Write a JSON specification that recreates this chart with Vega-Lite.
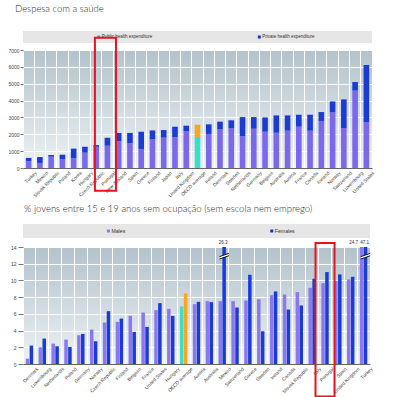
{
  "$schema": "https://vega.github.io/schema/vega-lite/v6.json",
  "background": "white",
  "padding": {"left": 0, "top": 3, "right": 0, "bottom": 0},
  "config": {
    "font": "Liberation Sans",
    "title": {"font": "Lato", "fontSize": 9.5, "fontWeight": 300, "color": "#2a2a2a", "anchor": "start", "frame": "bounds"},
    "style": {"group-title": {"fontWeight": 300, "fontSize": 9.5}},
    "axis": {"labelFont": "Liberation Sans"}
  },
  "align": "none",
  "spacing": 5,
  "datasets": {
    "health": [
      {"country": "Turkey", "public": 400, "total": 600},
      {"country": "Mexico", "public": 300, "total": 650},
      {"country": "Slovak Republic", "public": 670, "total": 770},
      {"country": "Poland", "public": 530, "total": 790},
      {"country": "Korea", "public": 570, "total": 1150},
      {"country": "Hungary", "public": 910, "total": 1260},
      {"country": "Czech Republic", "public": 1260, "total": 1360},
      {"country": "Portugal", "public": 1320, "total": 1800},
      {"country": "New Zealand", "public": 1600, "total": 2070},
      {"country": "Spain", "public": 1460, "total": 2080},
      {"country": "Greece", "public": 1130, "total": 2150},
      {"country": "Finland", "public": 1700, "total": 2230},
      {"country": "Japan", "public": 1800, "total": 2250},
      {"country": "Italy", "public": 1820, "total": 2450},
      {"country": "United Kingdom", "public": 2170, "total": 2510},
      {"country": "OECD average", "public": 1840, "total": 2570},
      {"country": "Ireland", "public": 2020, "total": 2590},
      {"country": "Denmark", "public": 2290, "total": 2750},
      {"country": "Sweden", "public": 2370, "total": 2830},
      {"country": "Netherlands", "public": 1880, "total": 3020},
      {"country": "Germany", "public": 2330, "total": 3020},
      {"country": "Belgium", "public": 2150, "total": 3000},
      {"country": "Australia", "public": 2090, "total": 3120},
      {"country": "Austria", "public": 2210, "total": 3120},
      {"country": "France", "public": 2450, "total": 3160},
      {"country": "Canada", "public": 2210, "total": 3160},
      {"country": "Iceland", "public": 2790, "total": 3320},
      {"country": "Norway", "public": 3300, "total": 3950},
      {"country": "Switzerland", "public": 2370, "total": 4070},
      {"country": "Luxembourg", "public": 4590, "total": 5100},
      {"country": "United States", "public": 2730, "total": 6110}
    ],
    "neet": [
      {"country": "Denmark", "sex": "Males", "value": 0.64}, {"country": "Denmark", "sex": "Females", "value": 2.2},
      {"country": "Luxembourg", "sex": "Males", "value": 2.0}, {"country": "Luxembourg", "sex": "Females", "value": 3.04},
      {"country": "Netherlands", "sex": "Males", "value": 2.44}, {"country": "Netherlands", "sex": "Females", "value": 2.12},
      {"country": "Poland", "sex": "Males", "value": 2.92}, {"country": "Poland", "sex": "Females", "value": 2.04},
      {"country": "Germany", "sex": "Males", "value": 3.44}, {"country": "Germany", "sex": "Females", "value": 3.6},
      {"country": "Norway", "sex": "Males", "value": 4.12}, {"country": "Norway", "sex": "Females", "value": 2.72},
      {"country": "Czech Republic", "sex": "Males", "value": 4.96}, {"country": "Czech Republic", "sex": "Females", "value": 6.32},
      {"country": "Finland", "sex": "Males", "value": 5.04}, {"country": "Finland", "sex": "Females", "value": 5.44},
      {"country": "Belgium", "sex": "Males", "value": 5.76}, {"country": "Belgium", "sex": "Females", "value": 3.84},
      {"country": "France", "sex": "Males", "value": 6.16}, {"country": "France", "sex": "Females", "value": 4.44},
      {"country": "United States", "sex": "Males", "value": 6.44}, {"country": "United States", "sex": "Females", "value": 7.28},
      {"country": "Hungary", "sex": "Males", "value": 6.6}, {"country": "Hungary", "sex": "Females", "value": 5.76},
      {"country": "OECD average", "sex": "Males", "value": 6.88}, {"country": "OECD average", "sex": "Females", "value": 8.44},
      {"country": "Austria", "sex": "Males", "value": 7.16}, {"country": "Austria", "sex": "Females", "value": 7.44},
      {"country": "Australia", "sex": "Males", "value": 7.52}, {"country": "Australia", "sex": "Females", "value": 7.4},
      {"country": "Mexico", "sex": "Males", "value": 7.52}, {"country": "Mexico", "sex": "Females", "value": 26.3},
      {"country": "Switzerland", "sex": "Males", "value": 7.52}, {"country": "Switzerland", "sex": "Females", "value": 6.76},
      {"country": "Greece", "sex": "Males", "value": 7.6}, {"country": "Greece", "sex": "Females", "value": 10.68},
      {"country": "Sweden", "sex": "Males", "value": 7.76}, {"country": "Sweden", "sex": "Females", "value": 3.92},
      {"country": "Ireland", "sex": "Males", "value": 8.24}, {"country": "Ireland", "sex": "Females", "value": 8.68},
      {"country": "Canada", "sex": "Males", "value": 8.32}, {"country": "Canada", "sex": "Females", "value": 6.52},
      {"country": "Slovak Republic", "sex": "Males", "value": 8.6}, {"country": "Slovak Republic", "sex": "Females", "value": 7.0},
      {"country": "Italy", "sex": "Males", "value": 9.12}, {"country": "Italy", "sex": "Females", "value": 10.2},
      {"country": "Portugal", "sex": "Males", "value": 9.68}, {"country": "Portugal", "sex": "Females", "value": 11.0},
      {"country": "Spain", "sex": "Males", "value": 9.92}, {"country": "Spain", "sex": "Females", "value": 10.72},
      {"country": "United Kingdom", "sex": "Males", "value": 10.12}, {"country": "United Kingdom", "sex": "Females", "value": 10.44},
      {"country": "Turkey", "sex": "Males", "value": 24.7}, {"country": "Turkey", "sex": "Females", "value": 47.1}
    ]
  },
  "vconcat": [
    {
      "title": {"text": "Despesa com a saúde", "dx": 8, "offset": 18, "fontWeight": 300},
      "bounds": "flush",
      "spacing": 7,
      "vconcat": [
        {
          "width": 349,
          "height": 12,
          "view": {"fill": "#e6e6e6", "stroke": null},
          "data": {"values": [{"label": "Public health expenditure"}, {"label": "Private health expenditure"}]},
          "encoding": {
            "x": {"field": "label", "type": "nominal", "sort": null, "scale": {"type": "point", "padding": 0.587, "align": 0.402}, "axis": null}
          },
          "layer": [
            {
              "mark": {"type": "point", "shape": "square", "filled": true, "size": 9, "opacity": 1},
              "encoding": {
                "color": {"field": "label", "type": "nominal", "scale": {"domain": ["Public health expenditure", "Private health expenditure"], "range": ["#8a7af0", "#1530d0"]}, "legend": null}
              }
            },
            {
              "mark": {"type": "text", "align": "left", "dx": 3, "fontSize": 4.5, "color": "#333333"},
              "encoding": {"text": {"field": "label"}}
            }
          ]
        },
        {
          "width": 349,
          "height": 118,
          "view": {
            "fill": {"gradient": "linear", "x1": 0, "y1": 0, "x2": 0, "y2": 1, "stops": [{"offset": 0, "color": "#b3c2cb"}, {"offset": 1, "color": "#edf2f5"}]},
            "stroke": null
          },
          "data": {"name": "health"},
          "encoding": {
            "x": {
              "field": "country", "type": "nominal", "sort": null, "title": null,
              "scale": {"paddingInner": 0, "paddingOuter": 0},
              "axis": {"bandPosition": 0, "labelOffset": 5.63, "labelAngle": -45, "labelFontSize": 4.8, "labelColor": "#444444", "labelPadding": 2, "labelLimit": 0, "ticks": false, "domainColor": "#666666", "grid": true, "gridColor": "#ffffff", "gridWidth": 1}
            }
          },
          "layer": [
            {
              "mark": {"type": "bar", "width": {"band": 0.5}},
              "encoding": {
                "y": {"field": "public", "type": "quantitative", "title": null, "scale": {"domain": [0, 7000], "nice": false},
                  "axis": {"tickCount": 7, "format": "d", "labelFontSize": 5, "labelColor": "#444444", "tickSize": 3, "tickColor": "#777777", "labelPadding": 1, "domain": false, "gridColor": "#ffffff", "gridWidth": 1, "minExtent": 16, "maxExtent": 16}},
                "color": {"condition": {"test": "datum.country === 'OECD average'", "value": "#3ddbc9"}, "value": "#7b68ee"}
              }
            },
            {
              "mark": {"type": "bar", "width": {"band": 0.5}},
              "encoding": {
                "y": {"field": "total", "type": "quantitative", "title": null, "scale": {"domain": [0, 7000], "nice": false}},
                "y2": {"field": "public"},
                "color": {"condition": {"test": "datum.country === 'OECD average'", "value": "#f5a623"}, "value": "#1a3bd6"}
              }
            },
            {
              "data": {"values": [{"country": "Portugal"}]},
              "mark": {"type": "bar", "width": {"band": 1.87}, "xOffset": -2, "fill": "transparent", "stroke": "#e8141b", "strokeWidth": 2, "clip": false},
              "encoding": {
                "y": {"datum": 7730, "scale": {"domain": [0, 7000], "nice": false}},
                "y2": {"datum": -1350}
              }
            }
          ]
        }
      ]
    },
    {
      "title": {"text": "% jovens entre 15 e 19 anos sem ocupação (sem escola nem emprego)", "dx": 24, "offset": 11, "fontWeight": 300},
      "bounds": "flush",
      "spacing": 9,
      "vconcat": [
        {
          "width": 347,
          "height": 14,
          "view": {"fill": "#e6e6e6", "stroke": null},
          "data": {"values": [{"label": "Males"}, {"label": "Females"}]},
          "encoding": {
            "x": {"field": "label", "type": "nominal", "sort": null, "scale": {"type": "point", "padding": 0.562, "align": 0.465}, "axis": null}
          },
          "layer": [
            {
              "mark": {"type": "point", "shape": "square", "filled": true, "size": 9, "opacity": 1},
              "encoding": {
                "color": {"field": "label", "type": "nominal", "scale": {"domain": ["Males", "Females"], "range": ["#9a8cf0", "#7a0000"]}, "legend": null}
              }
            },
            {
              "mark": {"type": "text", "align": "left", "dx": 3, "fontSize": 5.2, "color": "#333333"},
              "encoding": {"text": {"field": "label"}}
            }
          ]
        },
        {
          "width": 347,
          "height": 117,
          "view": {
            "fill": {"gradient": "linear", "x1": 0, "y1": 0, "x2": 0, "y2": 1, "stops": [{"offset": 0, "color": "#b3c2cb"}, {"offset": 1, "color": "#edf2f5"}]},
            "stroke": null
          },
          "data": {"name": "neet"},
          "encoding": {
            "x": {
              "field": "country", "type": "nominal", "sort": null, "title": null,
              "scale": {"paddingInner": 0, "paddingOuter": 0},
              "axis": {"bandPosition": 0, "labelOffset": 6.43, "labelAngle": -45, "labelFontSize": 4.8, "labelColor": "#444444", "labelPadding": 2, "labelLimit": 0, "ticks": false, "domainColor": "#666666", "grid": true, "gridColor": "#ffffff", "gridWidth": 1}
            },
            "xOffset": {"field": "sex", "type": "nominal", "sort": ["Males", "Females"], "scale": {"paddingInner": 0.1, "paddingOuter": 0.7}}
          },
          "layer": [
            {
              "mark": {"type": "bar", "clip": true},
              "encoding": {
                "y": {"field": "value", "type": "quantitative", "title": null, "scale": {"domain": [0, 14], "nice": false},
                  "axis": {"tickCount": 7, "labelFontSize": 5, "labelColor": "#444444", "tickSize": 5, "tickColor": "#777777", "labelPadding": 2, "domain": false, "gridColor": "#ffffff", "gridWidth": 1, "minExtent": 23, "maxExtent": 23}},
                "color": {
                  "condition": [
                    {"test": "datum.country === 'OECD average' && datum.sex === 'Males'", "value": "#3ddbc9"},
                    {"test": "datum.country === 'OECD average'", "value": "#f5a623"},
                    {"test": "datum.sex === 'Males'", "value": "#8a78f0"}
                  ],
                  "value": "#1a3bd6"
                }
              }
            },
            {
              "transform": [{"filter": "datum.value > 14 && datum.sex === 'Females'"}],
              "mark": {"type": "point", "shape": "M-1,0.1L1,-0.6L1,-0.1L-1,0.6Z", "size": 90, "filled": true, "fill": "#ffffff", "strokeWidth": 0, "opacity": 1},
              "encoding": {"y": {"datum": 12.9, "scale": {"domain": [0, 14], "nice": false}}}
            },
            {
              "transform": [{"filter": "datum.value > 14 && datum.sex === 'Females'"}],
              "mark": {"type": "point", "shape": "M-1,0.1L1,-0.6M-1,0.6L1,-0.1", "size": 90, "filled": false, "stroke": "#000000", "strokeWidth": 0.9, "opacity": 1},
              "encoding": {"y": {"datum": 12.9, "scale": {"domain": [0, 14], "nice": false}}}
            },
            {
              "transform": [{"filter": "datum.value > 14 && datum.sex === 'Females'"}],
              "mark": {"type": "text", "align": "center", "dx": -1, "dy": -3, "baseline": "alphabetic", "fontSize": 4.5, "color": "#333333"},
              "encoding": {"y": {"datum": 14, "scale": {"domain": [0, 14], "nice": false}}, "text": {"field": "value", "type": "quantitative"}}
            },
            {
              "transform": [{"filter": "datum.value > 14 && datum.sex === 'Males'"}],
              "mark": {"type": "text", "align": "right", "dx": -3.5, "dy": -3, "baseline": "alphabetic", "fontSize": 4.5, "color": "#333333"},
              "encoding": {"y": {"datum": 14, "scale": {"domain": [0, 14], "nice": false}}, "text": {"field": "value", "type": "quantitative"}}
            },
            {
              "data": {"values": [{"country": "Portugal"}]},
              "mark": {"type": "bar", "width": {"band": 1.48}, "xOffset": 3.5, "fill": "transparent", "stroke": "#e8141b", "strokeWidth": 2, "clip": false},
              "encoding": {
                "xOffset": {"value": 0},
                "y": {"datum": 14.49, "scale": {"domain": [0, 14], "nice": false}},
                "y2": {"datum": -3.88}
              }
            }
          ]
        }
      ]
    }
  ]
}
